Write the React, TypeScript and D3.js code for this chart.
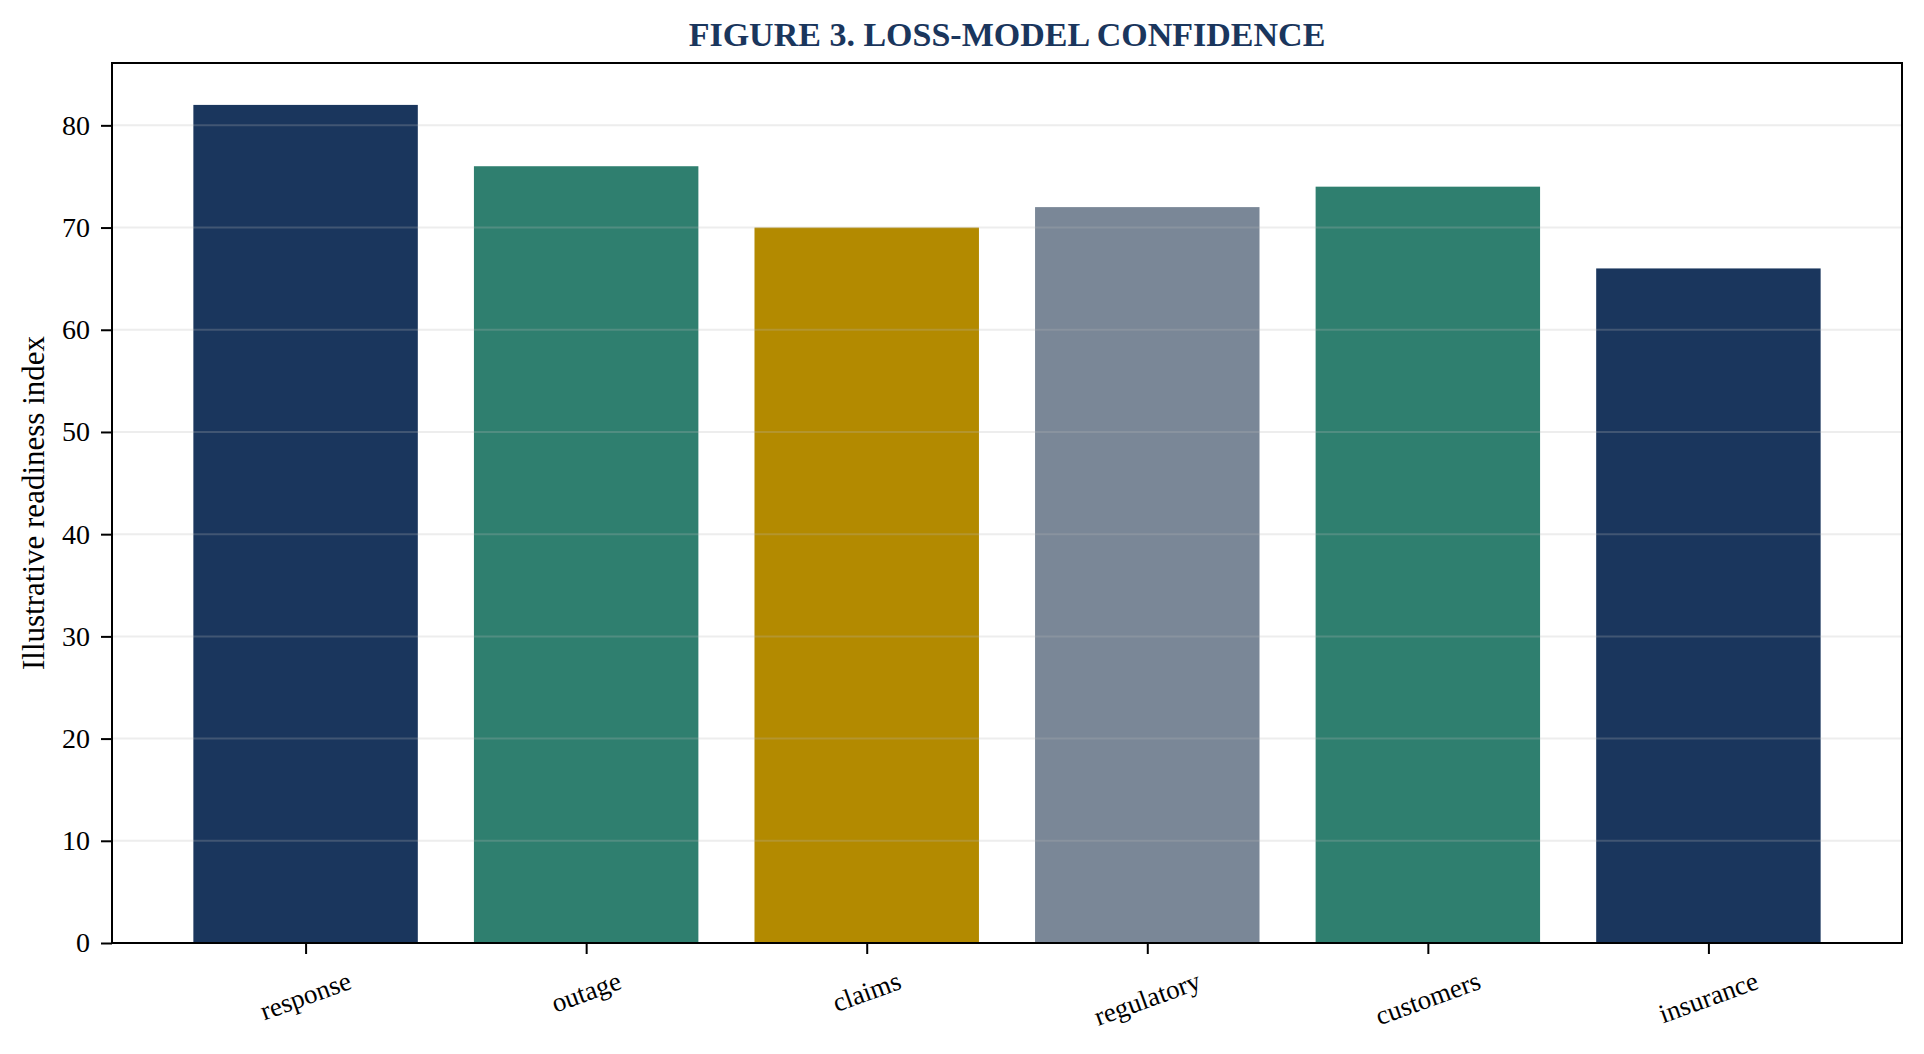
import { FC, useEffect, useRef } from 'react';
import * as d3 from 'd3';

const categories = ['response', 'outage', 'claims', 'regulatory', 'customers', 'insurance'];
const values = [82, 76, 70, 72, 74, 66];
const barColors = ['#1a365d', '#2f7f6f', '#b38a00', '#7a8797', '#2f7f6f', '#1a365d'];
const yTicks = [0, 10, 20, 30, 40, 50, 60, 70, 80];

const TITLE = 'FIGURE 3. LOSS-MODEL CONFIDENCE';
const Y_LABEL = 'Illustrative readiness index';
const FONT = '"Liberation Serif", "Times New Roman", serif';

const App: FC = () => {
  const svgRef = useRef<SVGSVGElement>(null);

  useEffect(() => {
    if (!svgRef.current) return;

    const width = 1924;
    const height = 1054;
    const margin = { top: 63, right: 22, bottom: 111, left: 112 };
    const innerW = width - margin.left - margin.right;
    const innerH = height - margin.top - margin.bottom;

    const svg = d3.select(svgRef.current);
    svg.selectAll('*').remove();

    const n = categories.length;
    const pad = 0.05 * (n - 1 + 0.8);
    const xScale = d3
      .scaleLinear()
      .domain([-0.4 - pad, n - 1 + 0.4 + pad])
      .range([0, innerW]);
    const yScale = d3
      .scaleLinear()
      .domain([0, (d3.max(values) as number) * 1.05])
      .range([innerH, 0]);

    const g = svg
      .append('g')
      .attr('transform', `translate(${margin.left},${margin.top})`);

    // bars
    g.selectAll('rect.bar')
      .data(values)
      .join('rect')
      .attr('class', 'bar')
      .attr('x', (_, i) => xScale(i - 0.4))
      .attr('width', xScale(0.8) - xScale(0))
      .attr('y', (d) => yScale(d))
      .attr('height', (d) => innerH - yScale(d))
      .attr('fill', (_, i) => barColors[i]);

    // grid on top of bars
    g.selectAll('line.grid')
      .data(yTicks)
      .join('line')
      .attr('class', 'grid')
      .attr('x1', 0)
      .attr('x2', innerW)
      .attr('y1', (d) => yScale(d))
      .attr('y2', (d) => yScale(d))
      .attr('stroke', '#b8b8b8')
      .attr('stroke-opacity', 0.25)
      .attr('stroke-width', 2);

    // y axis
    const yAxis = d3
      .axisLeft(yScale)
      .tickValues(yTicks)
      .tickSize(11)
      .tickPadding(11)
      .tickSizeOuter(0);
    const yG = g.append('g').call(yAxis);
    yG.select('.domain').remove();
    yG.selectAll('line').attr('stroke', '#000').attr('stroke-width', 2);
    yG.selectAll('text')
      .attr('font-family', FONT)
      .attr('font-size', 28)
      .attr('fill', '#000');

    // x axis ticks
    const xAxis = d3
      .axisBottom(xScale)
      .tickValues(d3.range(n))
      .tickSize(11)
      .tickFormat(() => '')
      .tickSizeOuter(0);
    const xG = g.append('g').attr('transform', `translate(0,${innerH})`).call(xAxis);
    xG.select('.domain').remove();
    xG.selectAll('line').attr('stroke', '#000').attr('stroke-width', 2);

    // rotated category labels, centred under ticks
    const angle = 20;
    const rad = (angle * Math.PI) / 180;
    const fs = 27;
    const labelTop = innerH + 24;
    categories.forEach((c, i) => {
      const t = g
        .append('text')
        .attr('font-family', FONT)
        .attr('font-size', fs)
        .attr('fill', '#000')
        .attr('text-anchor', 'middle')
        .attr('dominant-baseline', 'central')
        .text(c);
      const w = (t.node() as SVGTextElement).getComputedTextLength();
      const h = fs * 1.0;
      const H = w * Math.sin(rad) + h * Math.cos(rad);
      t.attr(
        'transform',
        `translate(${xScale(i)},${labelTop + H / 2}) rotate(${-angle})`
      );
    });

    // frame
    g.append('rect')
      .attr('x', 0)
      .attr('y', 0)
      .attr('width', innerW)
      .attr('height', innerH)
      .attr('fill', 'none')
      .attr('stroke', '#000')
      .attr('stroke-width', 2);

    // y label
    svg
      .append('text')
      .attr('transform', `translate(33,${margin.top + innerH / 2}) rotate(-90)`)
      .attr('text-anchor', 'middle')
      .attr('dominant-baseline', 'central')
      .attr('font-family', FONT)
      .attr('font-size', 31)
      .attr('fill', '#000')
      .text(Y_LABEL);

    // title
    svg
      .append('text')
      .attr('x', margin.left + innerW / 2)
      .attr('y', 34)
      .attr('text-anchor', 'middle')
      .attr('dominant-baseline', 'central')
      .attr('font-family', FONT)
      .attr('font-size', 34)
      .attr('font-weight', 'bold')
      .attr('fill', '#1a365d')
      .text(TITLE);
  }, []);

  return (
    <svg
      ref={svgRef}
      width={1924}
      height={1054}
      style={{ position: 'absolute', left: 0, top: 0, display: 'block', background: '#fff' }}
    />
  );
};

export default App;
